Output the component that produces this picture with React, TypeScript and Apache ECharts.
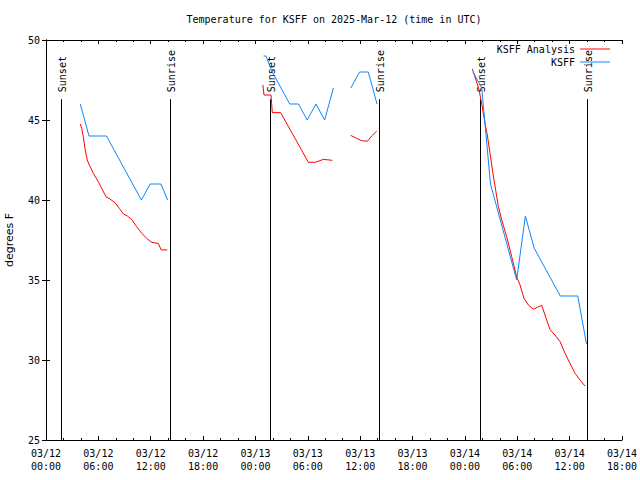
import React, { useEffect, useRef } from "react";
import * as echarts from "echarts";

// hours since 2025-03-12 00:00 UTC
const obsTimes = [3.93, 4.93, 5.93, 6.93, 7.93, 8.93, 9.93, 10.93, 11.93, 13.17, 13.93, 19,
  24.93, 25.2, 25.93, 26.93, 27.93, 28.93, 29.93, 30.93, 31.93, 32.93, 33.9,
  34.93, 35.93, 36.93, 37.93, 43,
  48.93, 49.93, 50.93, 51.93, 52.93, 53.93, 54.93, 55.93, 56.93, 57.93, 58.93, 59.93, 60.93, 61.93];
const obsTemps = [46, 44, 44, 44, 43, 42, 41, 40, 41, 41, 40, null,
  49, 49, 48, 47, 46, 46, 45, 46, 45, 47, null,
  47, 48, 48, 46, null,
  48, 47, 41, 39, 37, 35, 39, 37, 36, 35, 34, 34, 34, 31];

const anaTimes = [3.93, 4.09, 4.27, 4.5, 4.73, 4.96, 5.42, 5.99, 6.38, 6.88, 7.33, 7.91, 8.4, 8.86, 9.32, 9.82, 10.39, 10.97, 11.54, 12.11, 12.87, 13.2, 13.9, 19,
  24.85, 24.98, 25.78, 25.93, 26.89, 28.0, 29.0, 30.06, 30.9, 31.78, 32.81, 33.9,
  34.91, 35.6, 36.17, 36.82, 37.32, 37.9, 43,
  48.85, 49.62, 49.93, 50.3, 50.57, 50.88, 51.26, 51.53, 51.83, 52.22, 52.79, 53.36, 53.93, 54.31, 54.77, 55.27, 55.84, 56.3, 56.8, 57.18, 57.75, 58.32, 58.9, 59.47, 60.04, 60.62, 61.19, 61.76];
const anaTemps = [44.75, 44.48, 43.96, 43.1, 42.5, 42.19, 41.67, 41.15, 40.73, 40.2, 40.06, 39.83, 39.48, 39.13, 39.0, 38.79, 38.33, 37.92, 37.6, 37.35, 37.29, 36.88, 36.88, null,
  47.2, 46.56, 46.56, 45.46, 45.46, 44.37, 43.4, 42.36, 42.36, 42.54, 42.48, null,
  44.04, 43.85, 43.71, 43.67, 44.0, 44.31, null,
  48.2, 46.9, 46.0, 44.8, 44.06, 42.9, 41.5, 40.6, 39.6, 38.75, 37.7, 36.46, 35.2, 34.7, 33.85, 33.44, 33.17, 33.29, 33.42, 32.81, 31.9, 31.56, 31.15, 30.42, 29.79, 29.17, 28.75, 28.375];

const sunTimes = [1.75, 14.25, 25.7, 38.1, 49.77, 62.03];
const sunLabels = ["Sunset", "Sunrise", "Sunset", "Sunrise", "Sunset", "Sunrise"];
const sunLineTop = 46.3;

const xMin = 0;
const xMax = 66;
const xInterval = 6;
const yMin = 25;
const yMax = 50;
const yInterval = 5;

const MONO = "'DejaVu Sans Mono', monospace";
const SANS = "'DejaVu Sans', sans-serif";

function fmtX(v: number) {
  const day = 12 + Math.floor(v / 24);
  const hh = Math.round(v % 24);
  return "03/" + String(day).padStart(2, "0") + "\n" + String(hh).padStart(2, "0") + ":00";
}

export default function App() {
  const ref = useRef<HTMLDivElement>(null);
  useEffect(() => {
    if (!ref.current) return;
    const chart = echarts.init(ref.current, null, { renderer: "svg" });
    const axisLine = { show: true, lineStyle: { color: "#000", width: 1 } };
    const baseX = {
      type: "value",
      min: xMin,
      max: xMax,
      interval: xInterval,
      axisLine,
      axisTick: { show: true, inside: true, length: 4, lineStyle: { color: "#000" } },
      minorTick: { show: true, splitNumber: 3, length: 2, lineStyle: { color: "#000" } },
      splitLine: { show: false },
    };
    const baseY = {
      type: "value",
      min: yMin,
      max: yMax,
      interval: yInterval,
      axisLine,
      axisTick: { show: true, inside: true, length: 4, lineStyle: { color: "#000" } },
      splitLine: { show: false },
    };
    const legendBase = {
      right: 30,
      align: "right",
      icon: "rect",
      itemWidth: 30,
      itemHeight: 1,
      selectedMode: false,
      padding: 0,
      textStyle: { fontFamily: MONO, fontSize: 10, color: "#000" },
    };
    const option: any = {
      animation: false,
      backgroundColor: "#fff",
      title: {
        text: "Temperature for KSFF on 2025-Mar-12 (time in UTC)",
        left: 334,
        top: 14,
        textAlign: "center",
        padding: 0,
        textStyle: { fontFamily: MONO, fontSize: 10, fontWeight: "normal", color: "#000" },
      },
      legend: [
        { ...legendBase, data: ["KSFF Analysis"], top: 44 },
        { ...legendBase, data: ["KSFF"], top: 57 },
      ],
      grid: { left: 46, right: 18, top: 40, bottom: 40, containLabel: false, outerBoundsMode: "none" },
      xAxis: [
        {
          ...baseX,
          position: "bottom",
          axisLabel: {
            show: true,
            formatter: fmtX,
            fontFamily: MONO,
            fontSize: 10,
            lineHeight: 13,
            margin: 7,
            color: "#000",
          },
        },
        { ...baseX, position: "top", axisLabel: { show: false } },
      ],
      yAxis: [
        {
          ...baseY,
          position: "left",
          name: "degrees F",
          nameLocation: "middle",
          nameGap: 31,
          nameRotate: 90,
          nameTextStyle: { fontFamily: SANS, fontSize: 11, color: "#000" },
          axisLabel: { fontFamily: MONO, fontSize: 10, margin: 6, color: "#000" },
        },
        { ...baseY, position: "right", axisLabel: { show: false } },
      ],
      series: [
        {
          name: "KSFF Analysis",
          type: "line",
          data: anaTimes.map((t, i) => [t, anaTemps[i]]),
          symbol: "none",
          connectNulls: false,
          lineStyle: { color: "#ff0000", width: 1 },
          itemStyle: { color: "#ff0000" },
        },
        {
          name: "KSFF",
          type: "line",
          data: obsTimes.map((t, i) => [t, obsTemps[i]]),
          symbol: "none",
          connectNulls: false,
          lineStyle: { color: "#0a86ff", width: 1 },
          itemStyle: { color: "#0a86ff" },
        },
        {
          name: "sun",
          type: "custom",
          silent: true,
          data: sunTimes.map((t) => [t, yMin, sunLineTop]),
          renderItem: (params: any, api: any) => {
            const t = api.value(0);
            const p0 = api.coord([t, api.value(1)]);
            const p1 = api.coord([t, api.value(2)]);
            const x = Math.round(p0[0]) + 0.5;
            return {
              type: "group",
              children: [
                {
                  type: "line",
                  shape: { x1: x, y1: p0[1], x2: x, y2: p1[1] },
                  style: { stroke: "#000", lineWidth: 1 },
                },
                {
                  type: "text",
                  x: x + 1,
                  y: p1[1] - 7,
                  rotation: Math.PI / 2,
                  style: {
                    text: sunLabels[params.dataIndex],
                    font: "10px " + MONO,
                    fill: "#000",
                    align: "left",
                    verticalAlign: "middle",
                  },
                },
              ],
            };
          },
        },
      ],
    };
    chart.setOption(option);
    return () => chart.dispose();
  }, []);
  return <div ref={ref} style={{ width: 640, height: 480, position: "absolute", left: 0, top: 0 }} />;
}
